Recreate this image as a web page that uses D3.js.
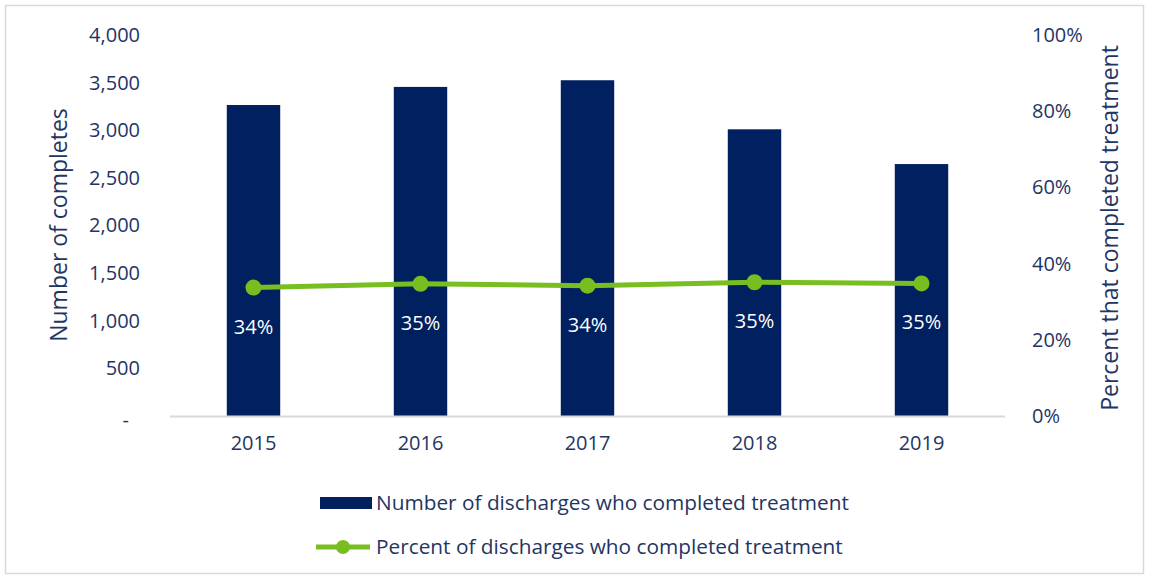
<!DOCTYPE html>
<html>
<head>
<meta charset="utf-8">
<script src="https://cdn.jsdelivr.net/npm/d3@7"></script>
<style>
  body { margin: 0; background: #fff; }
  text { font-family: "Open Sans", "Noto Sans", sans-serif; }
</style>
</head>
<body>
<svg width="1149" height="579"></svg>
<script>
var years = ["2015", "2016", "2017", "2018", "2019"];
var completes = [3265, 3455, 3525, 3010, 2645];
var percents = [0.337, 0.347, 0.342, 0.351, 0.348];
var leftTicks = [0, 500, 1000, 1500, 2000, 2500, 3000, 3500, 4000];
var rightTicks = [0, 0.2, 0.4, 0.6, 0.8, 1];

var navy = "#002060";
var green = "#78BE20";
var textColor = "#1F3564";

var svg = d3.select("svg");

// outer border
svg.append("rect")
  .attr("x", 5.5).attr("y", 5.5)
  .attr("width", 1138).attr("height", 568)
  .attr("fill", "#fff")
  .attr("stroke", "#d9d9d9")
  .attr("stroke-width", 1.5);

var plotLeft = 170, plotRight = 1005, plotTop = 35, plotBottom = 416;

var x = d3.scaleBand().domain(years).range([plotLeft, plotRight]).paddingInner(0.68).paddingOuter(0.34);
var yL = d3.scaleLinear().domain([0, 4000]).range([plotBottom, plotTop]);
var yR = d3.scaleLinear().domain([0, 1]).range([plotBottom, plotTop]);

// bars
svg.selectAll(".bar").data(years).enter().append("rect")
  .attr("class", "bar")
  .attr("x", function(d) { return x(d); })
  .attr("y", function(d, i) { return yL(completes[i]); })
  .attr("width", x.bandwidth())
  .attr("height", function(d, i) { return plotBottom - yL(completes[i]); })
  .attr("fill", navy);

// baseline
svg.append("line")
  .attr("x1", plotLeft).attr("x2", plotRight)
  .attr("y1", plotBottom + 0.5).attr("y2", plotBottom + 0.5)
  .attr("stroke", "#d9d9d9").attr("stroke-width", 2);

// left axis
var leftAxis = d3.axisLeft(yL).tickValues(leftTicks).tickSize(0).tickPadding(0)
  .tickFormat(function(d) { return d === 0 ? "-" : d3.format(",")(d); });
var gL = svg.append("g").attr("transform", "translate(140,0)").call(leftAxis);
gL.select(".domain").remove();
gL.selectAll("text").attr("fill", textColor).style("font-size", "20px")
  .style("font-family", "'Open Sans', sans-serif");
gL.selectAll(".tick").filter(function(d) { return d === 0; }).select("text").attr("dx", -11).attr("dy", "0.5em");

// right axis
var rightAxis = d3.axisRight(yR).tickValues(rightTicks).tickSize(0).tickPadding(0)
  .tickFormat(d3.format(".0%"));
var gR = svg.append("g").attr("transform", "translate(1032,0)").call(rightAxis);
gR.select(".domain").remove();
gR.selectAll("text").attr("fill", textColor).style("font-size", "20px")
  .style("font-family", "'Open Sans', sans-serif");

// x axis
var xAxis = d3.axisBottom(x).tickSize(0).tickPadding(0);
var gX = svg.append("g").attr("transform", "translate(0," + (plotBottom + 20) + ")").call(xAxis);
gX.select(".domain").remove();
gX.selectAll("text").attr("fill", textColor).style("font-size", "20px")
  .style("font-family", "'Open Sans', sans-serif");

// axis titles
svg.append("text")
  .attr("transform", "translate(67,225) rotate(-90)")
  .attr("text-anchor", "middle")
  .attr("fill", textColor)
  .style("font-size", "23px")
  .text("Number of completes");

svg.append("text")
  .attr("transform", "translate(1118,228) rotate(-90)")
  .attr("text-anchor", "middle")
  .attr("fill", textColor)
  .style("font-size", "23px")
  .text("Percent that completed treatment");

// line
var cx = function(i) { return x(years[i]) + x.bandwidth() / 2; };
var line = d3.line()
  .x(function(d, i) { return cx(i); })
  .y(function(d) { return yR(d); });

svg.append("path")
  .datum(percents)
  .attr("d", line)
  .attr("fill", "none")
  .attr("stroke", green)
  .attr("stroke-width", 5);

svg.selectAll(".pt").data(percents).enter().append("circle")
  .attr("class", "pt")
  .attr("cx", function(d, i) { return cx(i); })
  .attr("cy", function(d) { return yR(d); })
  .attr("r", 8)
  .attr("fill", green);

svg.selectAll(".lbl").data(percents).enter().append("text")
  .attr("class", "lbl")
  .attr("x", function(d, i) { return cx(i); })
  .attr("y", function(d) { return yR(d) + 46; })
  .attr("text-anchor", "middle")
  .attr("fill", "#fff")
  .style("font-size", "20px")
  .text(function(d) { return d3.format(".0%")(d); });

// legend
var lg = svg.append("g");
lg.append("rect").attr("x", 320).attr("y", 497).attr("width", 52).attr("height", 12).attr("fill", navy);
lg.append("text").attr("x", 376).attr("y", 510).attr("fill", textColor)
  .style("font-size", "20.8px").text("Number of discharges who completed treatment");

lg.append("line").attr("x1", 316).attr("x2", 370).attr("y1", 547).attr("y2", 547)
  .attr("stroke", green).attr("stroke-width", 5);
lg.append("circle").attr("cx", 343).attr("cy", 547).attr("r", 7).attr("fill", green);
lg.append("text").attr("x", 376).attr("y", 554).attr("fill", textColor)
  .style("font-size", "20.8px").text("Percent of discharges who completed treatment");
</script>
</body>
</html>
